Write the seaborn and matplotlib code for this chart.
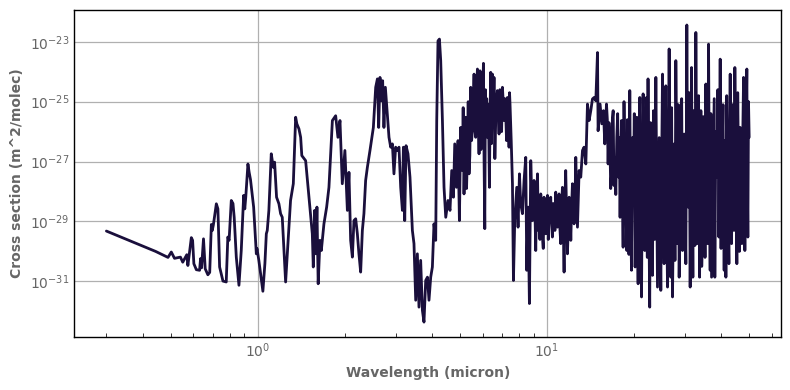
import matplotlib
matplotlib.use("Agg")
import matplotlib.pyplot as plt
from matplotlib.ticker import NullFormatter
import seaborn as sns
import pandas as pd

# spectrum: (wavelength in micron, log10 cross section)
seg_visible = [
    (0.300, -29.32), (0.444, -30.00), (0.490, -30.20), (0.503, -30.02), (0.516, -30.23),
    (0.541, -30.19), (0.551, -30.36), (0.569, -30.11), (0.574, -30.47), (0.590, -29.54),
    (0.596, -29.63), (0.602, -30.41), (0.614, -30.61), (0.630, -30.63), (0.635, -30.24),
    (0.640, -30.55), (0.650, -29.58), (0.659, -30.58), (0.673, -30.78), (0.683, -30.70),
    (0.692, -29.10), (0.697, -29.30), (0.703, -29.12), (0.720, -28.41), (0.729, -28.58),
    (0.739, -30.52), (0.759, -30.99), (0.779, -31.02), (0.789, -29.52), (0.797, -29.63),
    (0.811, -28.30), (0.822, -28.40), (0.830, -28.86), (0.844, -30.19), (0.862, -31.13),
    (0.878, -29.97), (0.895, -28.13), (0.903, -28.58), (0.910, -28.19), (0.926, -27.08),
    (0.935, -27.36), (0.945, -27.60), (0.969, -28.52), (0.990, -30.08), (0.995, -29.90),
    (1.010, -30.30), (1.043, -31.33), (1.060, -30.40), (1.072, -29.41), (1.080, -29.30),
    (1.094, -28.63),
]
seg_near_ir = [
    (1.115, -26.74), (1.133, -27.19), (1.145, -27.02), (1.163, -28.19), (1.185, -28.41),
    (1.201, -28.74), (1.217, -28.86), (1.250, -31.02), (1.300, -28.30), (1.329, -27.74),
    (1.354, -25.52), (1.367, -25.74), (1.390, -25.91), (1.409, -26.19), (1.422, -26.80),
    (1.466, -26.97), (1.505, -28.19), (1.546, -29.41), (1.558, -30.52), (1.575, -28.63),
    (1.591, -30.08), (1.604, -28.52), (1.620, -31.08), (1.643, -29.63), (1.661, -29.97),
    (1.696, -29.08), (1.733, -28.52), (1.765, -27.86), (1.814, -25.63), (1.862, -25.47),
    (1.896, -26.19), (1.927, -25.63), (1.963, -27.74), (2.004, -26.63), (2.044, -28.63),
    (2.070, -27.36), (2.098, -29.63), (2.127, -30.19), (2.154, -28.97), (2.184, -28.91),
    (2.213, -29.41), (2.241, -30.08), (2.272, -30.69), (2.303, -29.30), (2.332, -28.74),
    (2.364, -27.63), (2.397, -27.19), (2.447, -26.63), (2.494, -26.08),
]
seg_band_27_43 = [
    (2.514, -25.86), (2.561, -24.52), (2.596, -24.24), (2.623, -25.86), (2.650, -24.19),
    (2.679, -24.97), (2.707, -24.30), (2.735, -25.86), (2.766, -24.52), (2.810, -25.41),
    (2.847, -26.19), (2.886, -26.52), (2.925, -26.41), (2.962, -27.41), (3.002, -26.52),
    (3.044, -26.63), (3.083, -26.52), (3.125, -27.86), (3.168, -28.63), (3.193, -26.52),
    (3.227, -28.97), (3.261, -26.47), (3.312, -26.74), (3.365, -27.52), (3.430, -29.30),
    (3.474, -29.74), (3.522, -31.63), (3.569, -30.08), (3.615, -31.86), (3.664, -30.30),
    (3.715, -31.97), (3.762, -32.36), (3.814, -30.97), (3.867, -30.86), (3.915, -31.63),
    (3.969, -30.86), (4.022, -30.52), (4.074, -29.08), (4.130, -29.63), (4.164, -25.63),
    (4.206, -22.97), (4.254, -22.91), (4.298, -23.63), (4.357, -25.63), (4.413, -27.86),
    (4.474, -28.86), (4.555, -28.30), (4.628, -28.63), (4.692, -27.30), (4.756, -28.19),
    (4.806, -26.41), (4.872, -27.86), (4.934, -26.30), (4.988, -28.97),
]
seg_band_6 = [
    (5.040, -25.86), (5.075, -26.90), (5.109, -27.30), (5.140, -25.20), (5.174, -28.08),
    (5.210, -26.50), (5.245, -25.52), (5.280, -27.90), (5.317, -26.74), (5.350, -25.00),
    (5.385, -27.41), (5.420, -26.80), (5.458, -24.52), (5.495, -26.30), (5.533, -25.97),
    (5.570, -25.10), (5.605, -24.08), (5.640, -25.90), (5.680, -26.19), (5.720, -24.60),
    (5.757, -23.91), (5.795, -25.40), (5.832, -26.74), (5.879, -23.97), (5.920, -26.60),
    (5.958, -25.63), (6.000, -24.90), (6.040, -23.72), (6.070, -26.90), (6.105, -29.24),
    (6.135, -24.60), (6.166, -25.41), (6.200, -24.90), (6.235, -26.19), (6.285, -25.10),
    (6.335, -27.86), (6.368, -25.30), (6.400, -24.02), (6.445, -26.40), (6.488, -24.08),
    (6.530, -25.60), (6.571, -24.19), (6.615, -26.90), (6.661, -25.63), (6.705, -24.90),
    (6.750, -24.63), (6.795, -25.30), (6.839, -26.08), (6.885, -24.60), (6.932, -24.74),
    (6.980, -26.00), (7.026, -24.52), (7.070, -25.00), (7.116, -25.63), (7.165, -24.90),
    (7.213, -25.41), (7.260, -26.30), (7.310, -24.86), (7.358, -25.40), (7.406, -26.52),
    (7.435, -24.70), (7.464, -25.08), (7.535, -26.30), (7.610, -27.74),
]
seg_window = [
    (7.670, -30.97), (7.750, -28.97), (7.875, -27.86), (7.957, -29.19), (8.046, -27.41),
    (8.128, -28.41), (8.240, -28.74), (8.347, -27.63), (8.460, -26.86), (8.528, -30.63),
    (8.617, -28.52), (8.710, -31.74), (8.804, -26.97), (8.924, -28.97), (9.036, -27.63),
    (9.100, -28.60), (9.160, -29.97), (9.225, -28.20), (9.290, -27.41), (9.350, -29.30),
    (9.406, -28.97), (9.470, -29.60), (9.533, -28.08), (9.600, -28.50), (9.663, -29.52),
    (9.725, -29.90), (9.787, -28.19), (9.855, -28.40), (9.920, -29.41), (9.990, -28.80),
    (10.06, -28.13), (10.12, -29.60), (10.18, -28.97), (10.25, -28.60), (10.32, -28.19),
    (10.39, -29.00), (10.46, -29.52), (10.53, -28.40), (10.60, -28.52), (10.67, -29.30),
    (10.74, -28.02), (10.81, -28.80), (10.89, -29.19), (10.96, -28.50), (11.03, -28.08),
    (11.10, -29.20), (11.18, -29.74), (11.25, -28.50), (11.33, -27.86), (11.40, -29.00),
    (11.48, -30.69), (11.55, -28.40), (11.63, -27.30), (11.71, -28.70), (11.79, -30.08),
    (11.87, -29.20), (11.95, -28.19), (12.03, -28.60), (12.11, -29.63), (12.19, -28.50),
    (12.27, -27.74), (12.35, -28.20), (12.43, -29.08), (12.51, -28.50), (12.60, -26.86),
    (12.68, -28.00), (12.77, -29.19),
]
seg_band_15 = [
    (12.94, -27.30), (13.11, -27.52), (13.29, -26.63), (13.46, -26.52), (13.65, -27.08),
    (13.83, -25.08), (14.01, -25.63), (14.20, -25.30), (14.39, -24.91), (14.58, -24.86),
    (14.78, -24.97), (14.98, -23.36), (15.05, -25.97), (15.29, -25.08), (15.50, -25.74),
    (15.71, -25.30), (15.87, -26.41), (16.09, -25.08), (16.20, -25.60), (16.30, -27.08),
    (16.41, -25.70), (16.52, -26.19), (16.64, -27.90), (16.75, -27.41), (16.86, -25.60),
    (16.97, -25.30), (17.08, -27.80), (17.19, -26.86), (17.33, -28.10), (17.47, -26.19),
    (17.59, -25.40), (17.71, -27.52), (17.82, -26.20), (17.93, -28.86), (18.03, -26.80),
    (18.14, -25.63), (18.25, -27.60), (18.37, -29.86), (18.50, -25.00), (18.62, -27.30),
    (18.77, -28.40), (18.92, -29.97), (19.01, -25.60), (19.11, -28.63), (19.24, -30.10),
    (19.37, -24.63),
]
seg_far_ir = [
    (19.50, -28.90), (19.64, -30.63), (19.80, -26.20), (19.95, -27.52), (20.08, -25.40),
    (20.21, -30.52), (20.35, -27.90), (20.49, -25.52), (20.60, -29.40), (20.70, -31.08),
    (20.84, -26.60), (20.98, -24.86), (21.12, -29.00), (21.27, -31.52), (21.40, -27.30),
    (21.54, -24.74), (21.68, -28.10), (21.83, -29.97), (21.98, -26.90), (22.13, -24.86),
    (22.27, -30.20), (22.40, -24.24), (22.55, -28.80), (22.70, -31.86), (22.86, -25.70),
    (23.03, -27.52), (23.20, -30.80), (23.40, -25.30), (23.62, -29.60), (23.84, -24.19),
    (24.00, -27.80), (24.15, -31.19), (24.48, -26.20), (24.80, -31.30), (24.97, -27.00),
    (25.14, -24.08), (25.30, -28.40), (25.46, -30.41), (25.63, -26.90), (25.81, -24.47),
    (25.98, -28.90), (26.16, -31.19), (26.33, -27.60), (26.50, -23.24), (26.67, -27.90),
    (26.85, -30.86), (27.03, -25.20), (27.22, -31.52), (27.40, -28.80), (27.57, -26.41),
    (27.76, -30.30), (27.95, -23.63), (28.14, -26.80), (28.33, -29.74), (28.51, -25.10),
    (28.70, -30.86), (28.90, -28.20), (29.09, -26.63), (29.28, -24.90), (29.48, -29.97),
    (29.67, -27.10), (29.87, -26.08), (30.07, -28.60), (30.27, -30.41), (30.51, -22.44),
    (30.67, -26.90), (30.83, -28.52), (31.08, -24.70), (31.33, -31.19), (31.50, -27.40),
    (31.68, -23.86), (31.85, -28.00), (32.01, -30.86), (32.18, -25.30), (32.35, -26.41),
    (32.55, -29.80), (32.78, -22.69), (33.00, -27.20), (33.23, -29.74), (33.50, -24.80),
    (33.77, -30.86), (33.95, -27.70), (34.12, -25.30), (34.35, -30.50), (34.58, -29.19),
    (34.80, -25.50), (35.03, -26.86), (35.27, -30.20), (35.50, -24.41), (35.74, -28.00),
    (35.98, -29.74), (36.12, -26.50), (36.27, -23.08), (36.50, -27.90), (36.74, -30.63),
    (36.95, -25.40), (37.15, -30.86), (37.45, -28.50), (37.75, -26.41), (37.94, -24.90),
    (38.13, -30.86), (38.43, -26.00), (38.74, -27.52), (39.06, -24.60), (39.38, -29.52),
    (39.58, -27.00), (39.79, -23.58), (40.06, -29.90), (40.33, -27.19), (40.70, -25.10),
    (41.07, -30.63), (41.35, -26.30), (41.64, -30.86), (41.92, -24.80), (42.21, -27.19),
    (42.43, -29.10), (42.65, -30.41), (42.87, -26.70), (43.09, -24.08), (43.33, -28.00),
    (43.57, -29.74), (43.85, -25.10), (44.12, -26.41), (44.42, -29.30), (44.72, -23.86),
    (45.08, -27.40), (45.44, -30.41), (45.75, -24.70), (46.06, -27.52), (46.35, -30.00),
    (46.65, -25.86), (46.96, -28.60), (47.28, -29.74), (47.60, -26.30), (47.93, -24.19),
    (48.18, -27.40), (48.43, -29.97), (48.80, -26.70), (49.20, -23.91), (49.40, -27.60),
    (49.60, -29.52), (49.86, -25.00), (50.12, -26.19),
]

y_tick_values = [1e-31, 1e-29, 1e-27, 1e-25, 1e-23]

line_color = "#1a0f3c"
text_gray = "#666666"

segments = [seg_visible, seg_near_ir, seg_band_27_43, seg_band_6,
            seg_window, seg_band_15, seg_far_ir]
wavelength = [wl for seg in segments for wl, _ in seg]
xsec = [10.0 ** lg for seg in segments for _, lg in seg]
df = pd.DataFrame({"wavelength": wavelength, "xsec": xsec})

sns.set_theme(style="whitegrid", rc={
    "axes.edgecolor": "black",
    "axes.linewidth": 1.0,
    "grid.color": "#b0b0b0",
    "grid.linewidth": 0.9,
    "xtick.color": text_gray,
    "ytick.color": text_gray,
    "xtick.direction": "in",
    "ytick.direction": "in",
})
plt.rcParams["font.family"] = ["DejaVu Sans"]

fig, ax = plt.subplots(figsize=(7.9, 3.9), dpi=100)
ax.set_xscale("log")
ax.set_yscale("log")
sns.lineplot(data=df, x="wavelength", y="xsec", color=line_color, linewidth=2.0,
             estimator=None, sort=False, ax=ax)

ax.set_yticks(y_tick_values)
ax.grid(True, which="major")
ax.grid(False, which="minor")
ax.yaxis.set_minor_formatter(NullFormatter())
ax.tick_params(axis="both", which="major", labelsize=10, length=0, labelcolor=text_gray)
ax.tick_params(axis="x", which="minor", bottom=True, length=3, width=0.7, color="#333333")
ax.tick_params(axis="y", which="minor", left=False, length=0)

ax.set_xlabel("Wavelength (micron)", fontsize=10, fontweight="bold", color=text_gray)
ax.set_ylabel("Cross section (m^2/molec)", fontsize=10, fontweight="bold", color=text_gray)

fig.subplots_adjust(left=0.094, right=0.989, top=0.974, bottom=0.136)
fig.savefig("out.png", dpi=100)
